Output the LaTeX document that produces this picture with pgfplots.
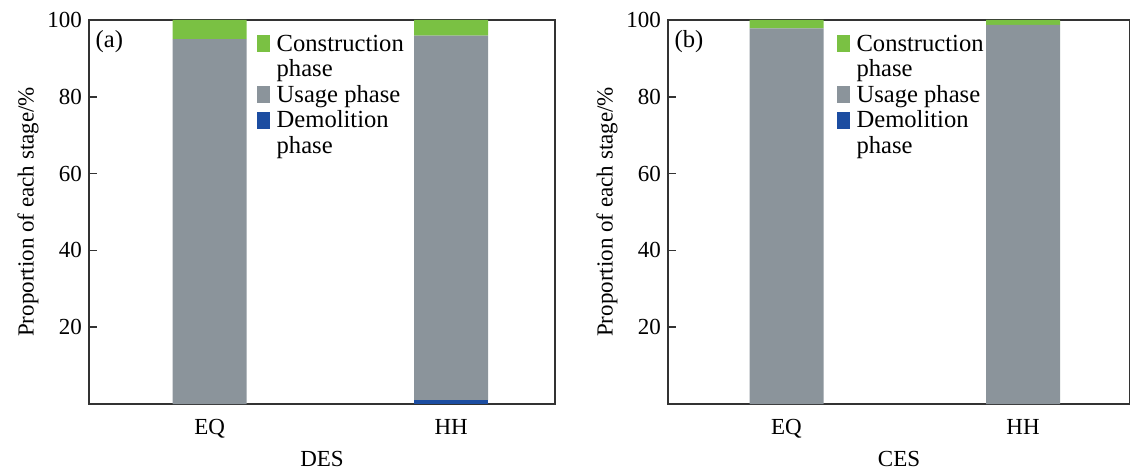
\documentclass[border=0pt]{standalone}
\usepackage{pgfplots}
\pgfplotsset{compat=1.18}
\usepackage{fontspec}
\setmainfont{Liberation Serif}
\definecolor{cgreen}{RGB}{122,193,67}
\definecolor{cgray}{RGB}{139,148,155}
\definecolor{cblue}{RGB}{28,77,161}
\pgfplotsset{
  panel/.style={
    scale only axis, width=233pt, height=192pt,
    ybar stacked, bar width=37pt,
    ymin=0, ymax=100, ytick={20,40,60,80,100},
    xtick={0,1}, xticklabels={EQ,HH},
    major x tick style={draw=none},
    ytick pos=left, tick align=inside, major tick length=4pt,
    axis line style={black!80, line width=0.9pt},
    tick style={black!80, line width=0.8pt},
    font=\fontsize{11.5}{13}\selectfont,
    ticklabel style={font=\fontsize{11.5}{13}\selectfont},
    /pgf/number format/assume math mode=true,
    xticklabel style={yshift=-4pt},
    ylabel={Proportion of each stage/\%},
    ylabel style={yshift=-2.5pt},
    legend style={draw=none, fill=none, anchor=north west,
      font=\fontsize{12.3}{12}\selectfont, inner sep=0pt, row sep=0pt,
      cells={anchor=base west, inner sep=0pt, text height=7.2pt, text depth=1.8pt}},
    legend image code/.code={\fill[##1] (0pt,-0.5pt) rectangle (6.5pt,8pt);},
    legend style={/tikz/every odd column/.append style={column sep=1.5pt}},
    clip=false,
  }
}
\newcommand{\legendentries}{%
  \addlegendimage{fill=cgreen, draw=none}\addlegendentry{Construction}
  \addlegendimage{empty legend}\addlegendentry{phase}
  \addlegendimage{fill=cgray, draw=none}\addlegendentry{Usage phase}
  \addlegendimage{fill=cblue, draw=none}\addlegendentry{Demolition}
  \addlegendimage{empty legend}\addlegendentry{phase}
}
\begin{document}
\begin{tikzpicture}
\useasboundingbox (0pt,0pt) rectangle (565pt,235.5pt);
\begin{axis}[panel, at={(44.5pt,33.5pt)}, anchor=south west, xmin=-0.5, xmax=1.43, xlabel={DES},
  legend style={at={(rel axis cs:0.359,0.967)}}]
\legendentries
\addplot[fill=cblue, draw=none, forget plot] coordinates {(0,0) (1,1.0)};
\addplot[fill=cgray, draw=none, forget plot] coordinates {(0,95.0) (1,94.9)};
\addplot[fill=cgreen, draw=none, forget plot] coordinates {(0,5.0) (1,4.1)};
\node[anchor=north west, inner sep=2pt, font=\fontsize{12.3}{13}\selectfont] at (rel axis cs:0.005,0.985) {(a)};
\end{axis}
\begin{axis}[panel, at={(334pt,33.5pt)}, anchor=south west, width=231pt, xmin=-0.501, xmax=1.452, xlabel={CES},
  legend style={at={(rel axis cs:0.364,0.967)}}]
\legendentries
\addplot[fill=cblue, draw=none, forget plot] coordinates {(0,0.0) (1,0.0)};
\addplot[fill=cgray, draw=none, forget plot] coordinates {(0,97.8) (1,98.7)};
\addplot[fill=cgreen, draw=none, forget plot] coordinates {(0,2.2) (1,1.3)};
\node[anchor=north west, inner sep=2pt, font=\fontsize{12.3}{13}\selectfont] at (rel axis cs:0.005,0.985) {(b)};
\end{axis}
\end{tikzpicture}
\end{document}
